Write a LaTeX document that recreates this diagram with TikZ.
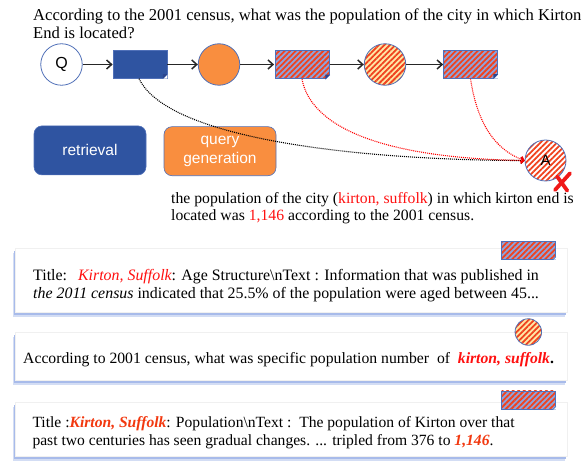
\documentclass[tikz,border=0pt]{standalone}
\usepackage{fontspec}
\setmainfont{Liberation Serif}
\setsansfont{Liberation Sans}
\usetikzlibrary{arrows.meta,patterns.meta,shadows}
\definecolor{dblue}{HTML}{2F54A1}
\definecolor{orng}{HTML}{F98E3F}
\definecolor{hblue}{HTML}{8FA3DC}
\definecolor{hred}{HTML}{F0421E}
\definecolor{hyel}{HTML}{FFE7A6}
\definecolor{edgeblue}{HTML}{5070B8}
\definecolor{foldc}{HTML}{2A4690}
\definecolor{shadowblue}{HTML}{A8BBEA}
\definecolor{txtred}{HTML}{FF1010}
\definecolor{txtorred}{HTML}{F2380F}
\definecolor{xred}{HTML}{F01818}
\begin{document}
\begin{tikzpicture}[x=1pt,y=-1pt,
  qtxt/.style={anchor=base west, inner sep=0pt, font=\fontsize{16.6}{18}\selectfont},
  txt/.style={anchor=base west, inner sep=0pt, font=\fontsize{15.7}{18}\selectfont},
  btxt/.style={anchor=base west, inner sep=0pt, font=\fontsize{15.9}{18}\selectfont},
  ctxt/.style={anchor=base west, inner sep=0pt, font=\fontsize{15.6}{18}\selectfont},
  circ/.style={circle, minimum size=41.5pt, inner sep=0pt, draw=edgeblue, line width=0.8pt},
  docbox/.style={rectangle, minimum width=54pt, minimum height=27.6pt, inner sep=0pt, draw=edgeblue, line width=0.7pt},
  hatchbl/.style={preaction={fill=hblue}, pattern={Lines[angle=45,distance=3.9pt,line width=1.8pt]}, pattern color=hred},
  hatchye/.style={preaction={fill=hyel}, pattern={Lines[angle=45,distance=3.9pt,line width=1.8pt]}, pattern color=hred},
  hatchwh/.style={preaction={fill=white}, pattern={Lines[angle=45,distance=3.9pt,line width=1.8pt]}, pattern color=hred},
  flow/.style={draw=black!85, line width=1.5pt, -{Straight Barb[length=5pt,width=9pt]}},
  blackdot/.style={draw=black, line width=1.1pt, dash pattern=on 1pt off 1pt, -{Straight Barb[length=3pt,width=6pt]}},
  reddot/.style={draw=red, line width=1.1pt, dash pattern=on 1pt off 1pt, -{Straight Barb[length=3pt,width=6pt]}},
  rbox/.style={rectangle, rounded corners=8pt, minimum width=112pt, minimum height=49pt, inner sep=0pt, draw=edgeblue, line width=0.6pt, text=white, align=center, font=\sffamily\fontsize{15.5}{19}\selectfont},
  panel/.style={rectangle, inner sep=0pt, minimum width=552pt, fill=white, draw=black!6, line width=0.5pt,
    general shadow={fill=shadowblue!50, shadow xshift=-2pt, shadow yshift=-5pt},
    general shadow={fill=shadowblue, shadow xshift=-1.2pt, shadow yshift=-3.3pt}},
  xmark/.style={draw=xred, line width=3.8pt, line cap=round}
]
\useasboundingbox (0,0) rectangle (586,468);

% question
\node[qtxt] (q1) at (33,21) {According to the 2001 census, what was the population of the city in which Kirton};
\node[qtxt] (q2) at (33,39) {End is located?};

% pipeline
\node[circ, fill=white, font=\sffamily\fontsize{16}{16}\selectfont] (Q) at (61.5,64.5) {Q};
\node[docbox, fill=dblue] (b1) at (140,64.5) {};
\node[circ, fill=orng] (o1) at (219,64.5) {};
\node[docbox, hatchbl] (r1) at (302,64.5) {};
\node[circ, hatchye] (c1) at (385,64.5) {};
\node[docbox, hatchbl] (r2) at (470.5,64.5) {};
\foreach \n in {b1,r1,r2}{
  \fill[white] (\n.south east) -- ++(-4.5,0) -- ++(4.5,-4.5) -- cycle;
  \draw[edgeblue, line width=0.7pt] ([xshift=-4.5pt]\n.south east) -- ([yshift=4.5pt]\n.south east);
  \fill[foldc] ([xshift=-4.5pt]\n.south east) -- ([yshift=4.5pt]\n.south east) -- ([shift={(-4.5pt,4.5pt)}]\n.south east) -- cycle;
}
\draw[flow] (Q) -- (b1);
\draw[flow] (b1) -- (o1);
\draw[flow] (o1) -- (r1);
\draw[flow] (r1) -- (c1);
\draw[flow] (c1) -- (r2);

% legend boxes
\node[rbox, fill=dblue] (ret) at (90,150.4) {retrieval};
\node[rbox, fill=orng] (qg) at (220,151.2) {query\\generation};

% answer node
\node[circ, hatchwh, minimum size=41pt, font=\sffamily\fontsize{15}{15}\selectfont] (A) at (545.5,160.5) {A};

% dotted connectors
\draw[blackdot] ([xshift=-1pt]b1.south) .. controls +(32,66) and +(-135,0) .. (A.west);
\draw[reddot] (r1.south) .. controls +(10,52) and +(-132,-2) .. (A.west);
\draw[reddot] (r2.south) .. controls +(7,47) and +(-28,-10) .. (A.west);

% red cross
\draw[xmark] ([shift={(24.5,12.8)}]A.center) -- ([shift={(9.5,29.5)}]A.center);
\draw[xmark] ([shift={(11.8,16.2)}]A.center) -- ([shift={(21.8,30.2)}]A.center);

% answer text
\node[txt] (a1) at (171,203) {the population of the city (\textcolor{txtred}{kirton, suffolk}) in which kirton end is};
\node[txt] (a2) at (171,220.5) {located was \textcolor{txtred}{1,146} according to the 2001 census.};

% panels
\node[panel, minimum height=64pt] (p1) at (291,280) {};
\node[panel, minimum height=48pt] (p2) at (291,356) {};
\node[panel, minimum height=54pt] (p3) at (291,429) {};

% panel icons
\node[docbox, hatchbl, minimum height=17.6pt] (i1) at (528.5,250.5) {};
\node[circ, hatchye, minimum size=26.5pt] (i2) at (528.3,332) {};
\node[docbox, hatchbl, minimum height=18.3pt] (i3) at (528.5,400) {};
\foreach \n in {i1,i3}{
  \fill[white] (\n.south east) -- ++(-3,0) -- ++(3,-3) -- cycle;
  \draw[edgeblue, line width=0.7pt] ([xshift=-3pt]\n.south east) -- ([yshift=3pt]\n.south east);
}

% panel texts
\node[btxt] (t11) at (33,280) {Title:\hspace{11pt}\textit{\textcolor{txtred}{Kirton, Suffolk}}: Age Structure\textbackslash nText : Information that was published in};
\node[btxt] (t12) at (33,298) {\textit{the 2011 census} indicated that 25.5\% of the population were aged between 45...};
\node[txt] (t21) at (23,363.3) {According to 2001 census, what was specific population number\ \ of\ \ \textbf{\textit{\textcolor{txtred}{kirton, suffolk}}.}};
\node[ctxt] (t31) at (32.3,427) {Title :\textbf{\textit{\textcolor{txtorred}{Kirton, Suffolk}}}: Population\textbackslash nText :\ \ The population of Kirton over that};
\node[ctxt] (t32) at (32.3,445) {past two centuries has seen gradual changes. ... tripled from 376 to \textbf{\textit{\textcolor{txtorred}{1,146}}}.};
\end{tikzpicture}
\end{document}
